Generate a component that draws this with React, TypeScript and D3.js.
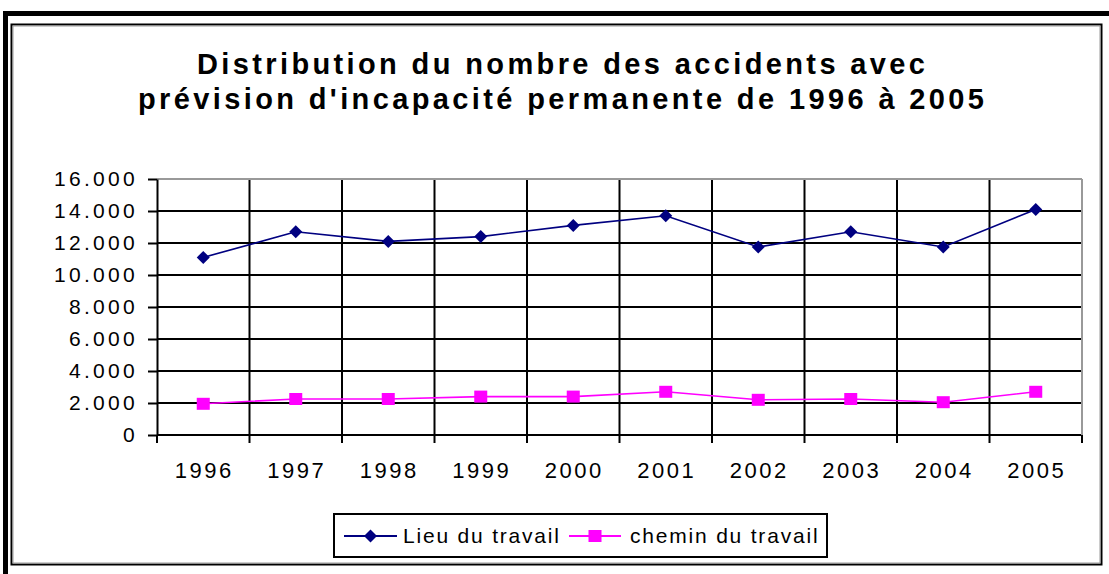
import { useEffect, useRef } from 'react';
import * as d3 from 'd3';

const years = ['1996', '1997', '1998', '1999', '2000', '2001', '2002', '2003', '2004', '2005'];
const lieuTravail = [11100, 12700, 12100, 12400, 13100, 13700, 11750, 12700, 11750, 14100];
const cheminTravail = [1950, 2250, 2250, 2400, 2400, 2700, 2200, 2250, 2050, 2700];
const yTicks = [0, 2000, 4000, 6000, 8000, 10000, 12000, 14000, 16000];
const titleLines = ['Distribution du nombre des accidents avec', "prévision d'incapacité permanente de 1996 à 2005"];

const width = 1109;
const height = 574;
const marginLeft = 157;
const marginRight = 1082;
const marginTop = 179;
const marginBottom = 435;
const font = 'Arial, "Liberation Sans", sans-serif';

export default function App() {
  const gy = useRef<SVGGElement>(null);
  const gx = useRef<SVGGElement>(null);

  const x = d3.scaleBand().domain(years).range([marginLeft, marginRight]);
  const y = d3.scaleLinear().domain([0, 16000]).range([marginBottom, marginTop]);
  const cx = (i: number) => (x(years[i]) ?? 0) + x.bandwidth() / 2;

  const fmt = (v: number) => (v === 0 ? '0' : d3.format(',')(v).replace(',', '.'));

  useEffect(() => {
    if (gy.current) {
      const g = d3.select(gy.current);
      g.selectAll('*').remove();
      g.call(d3.axisLeft(y).tickValues(yTicks).tickSize(9).tickSizeOuter(0).tickFormat((d) => fmt(d as number)));
      g.select('.domain').attr('stroke', '#000').attr('stroke-width', 2);
      g.selectAll('.tick line').attr('stroke', '#000').attr('stroke-width', 2);
      g.selectAll('.tick text')
        .attr('font-family', font)
        .attr('font-size', 21)
        .attr('letter-spacing', 3.3)
        .attr('fill', '#000')
        .attr('x', -19);
    }
    if (gx.current) {
      const g = d3.select(gx.current);
      g.selectAll('*').remove();
      // category boundaries as ticks
      const bounds = d3.range(years.length + 1).map((i) => marginLeft + i * x.step());
      g.selectAll('line.tk')
        .data(bounds)
        .join('line')
        .attr('class', 'tk')
        .attr('x1', (d) => d)
        .attr('x2', (d) => d)
        .attr('y1', 0)
        .attr('y2', 8)
        .attr('stroke', '#000')
        .attr('stroke-width', 2);
      g.selectAll('text')
        .data(years)
        .join('text')
        .attr('x', (_d, i) => cx(i) + 1)
        .attr('y', 43)
        .attr('text-anchor', 'middle')
        .attr('font-family', font)
        .attr('font-size', 22)
        .attr('letter-spacing', 2.5)
        .attr('fill', '#000')
        .text((d) => d);
    }
  }, []);

  const line = d3
    .line<number>()
    .x((_d, i) => cx(i))
    .y((d) => y(d));

  const diamond = (px: number, py: number, s: number) =>
    `M${px},${py - s}L${px + s},${py}L${px},${py + s}L${px - s},${py}Z`;

  return (
    <svg width={width} height={height} style={{ position: 'absolute', left: 0, top: 0, background: '#fff' }}>
      {/* outer frame */}
      <rect x={5.5} y={13.5} width={1120} height={600} fill="none" stroke="#000" strokeWidth={5} />
      {/* inner frame */}
      <rect x={11.5} y={24.5} width={1090} height={540} fill="#fff" stroke="#000" strokeWidth={2} />
      <rect x={13} y={26} width={1087} height={537} fill="none" stroke="#999" strokeWidth={1} />

      {titleLines.map((t, i) => (
        <text
          key={i}
          x={561}
          y={74 + i * 35}
          textAnchor="middle"
          fontFamily={font}
          fontWeight="bold"
          fontSize={29}
          textLength={i === 0 ? 728 : 846}
          lengthAdjust="spacing"
        >
          {t}
        </text>
      ))}

      {/* gridlines */}
      {yTicks.slice(0, -1).map((t) => (
        <line key={t} x1={marginLeft} x2={marginRight} y1={y(t)} y2={y(t)} stroke="#000" strokeWidth={2} />
      ))}
      {d3.range(1, years.length).map((i) => (
        <line
          key={i}
          x1={marginLeft + i * x.step()}
          x2={marginLeft + i * x.step()}
          y1={marginTop}
          y2={marginBottom}
          stroke="#000"
          strokeWidth={2}
        />
      ))}
      <line x1={marginLeft} x2={marginRight} y1={marginTop} y2={marginTop} stroke="#999" strokeWidth={2} />
      <line x1={marginRight} x2={marginRight} y1={marginTop} y2={marginBottom} stroke="#999" strokeWidth={2} />

      <g ref={gy} transform={`translate(${marginLeft},0)`}></g>
      <g ref={gx} transform={`translate(0,${marginBottom})`}></g>

      {/* series */}
      <path d={line(lieuTravail) ?? ''} fill="none" stroke="#000080" strokeWidth={1.6} />
      {lieuTravail.map((v, i) => (
        <path key={i} d={diamond(cx(i), y(v), 6.5)} fill="#000080" />
      ))}
      <path d={line(cheminTravail) ?? ''} fill="none" stroke="#FF00FF" strokeWidth={1.6} />
      {cheminTravail.map((v, i) => (
        <rect key={i} x={cx(i) - 6.5} y={y(v) - 6} width={13} height={12} fill="#FF00FF" />
      ))}

      {/* legend */}
      <rect x={334} y={514} width={493} height={43} fill="#fff" stroke="#000" strokeWidth={2} />
      <line x1={344} x2={397} y1={536} y2={536} stroke="#000080" strokeWidth={2} />
      <path d={diamond(370.5, 536, 6.5)} fill="#000080" />
      <text x={403} y={543} fontFamily={font} fontSize={21} letterSpacing={1.8}>
        Lieu du travail
      </text>
      <line x1={569} x2={621} y1={536} y2={536} stroke="#FF00FF" strokeWidth={2} />
      <rect x={588.5} y={530} width={13} height={12} fill="#FF00FF" />
      <text x={630} y={543} fontFamily={font} fontSize={21} letterSpacing={1.8}>
        chemin du travail
      </text>
    </svg>
  );
}
